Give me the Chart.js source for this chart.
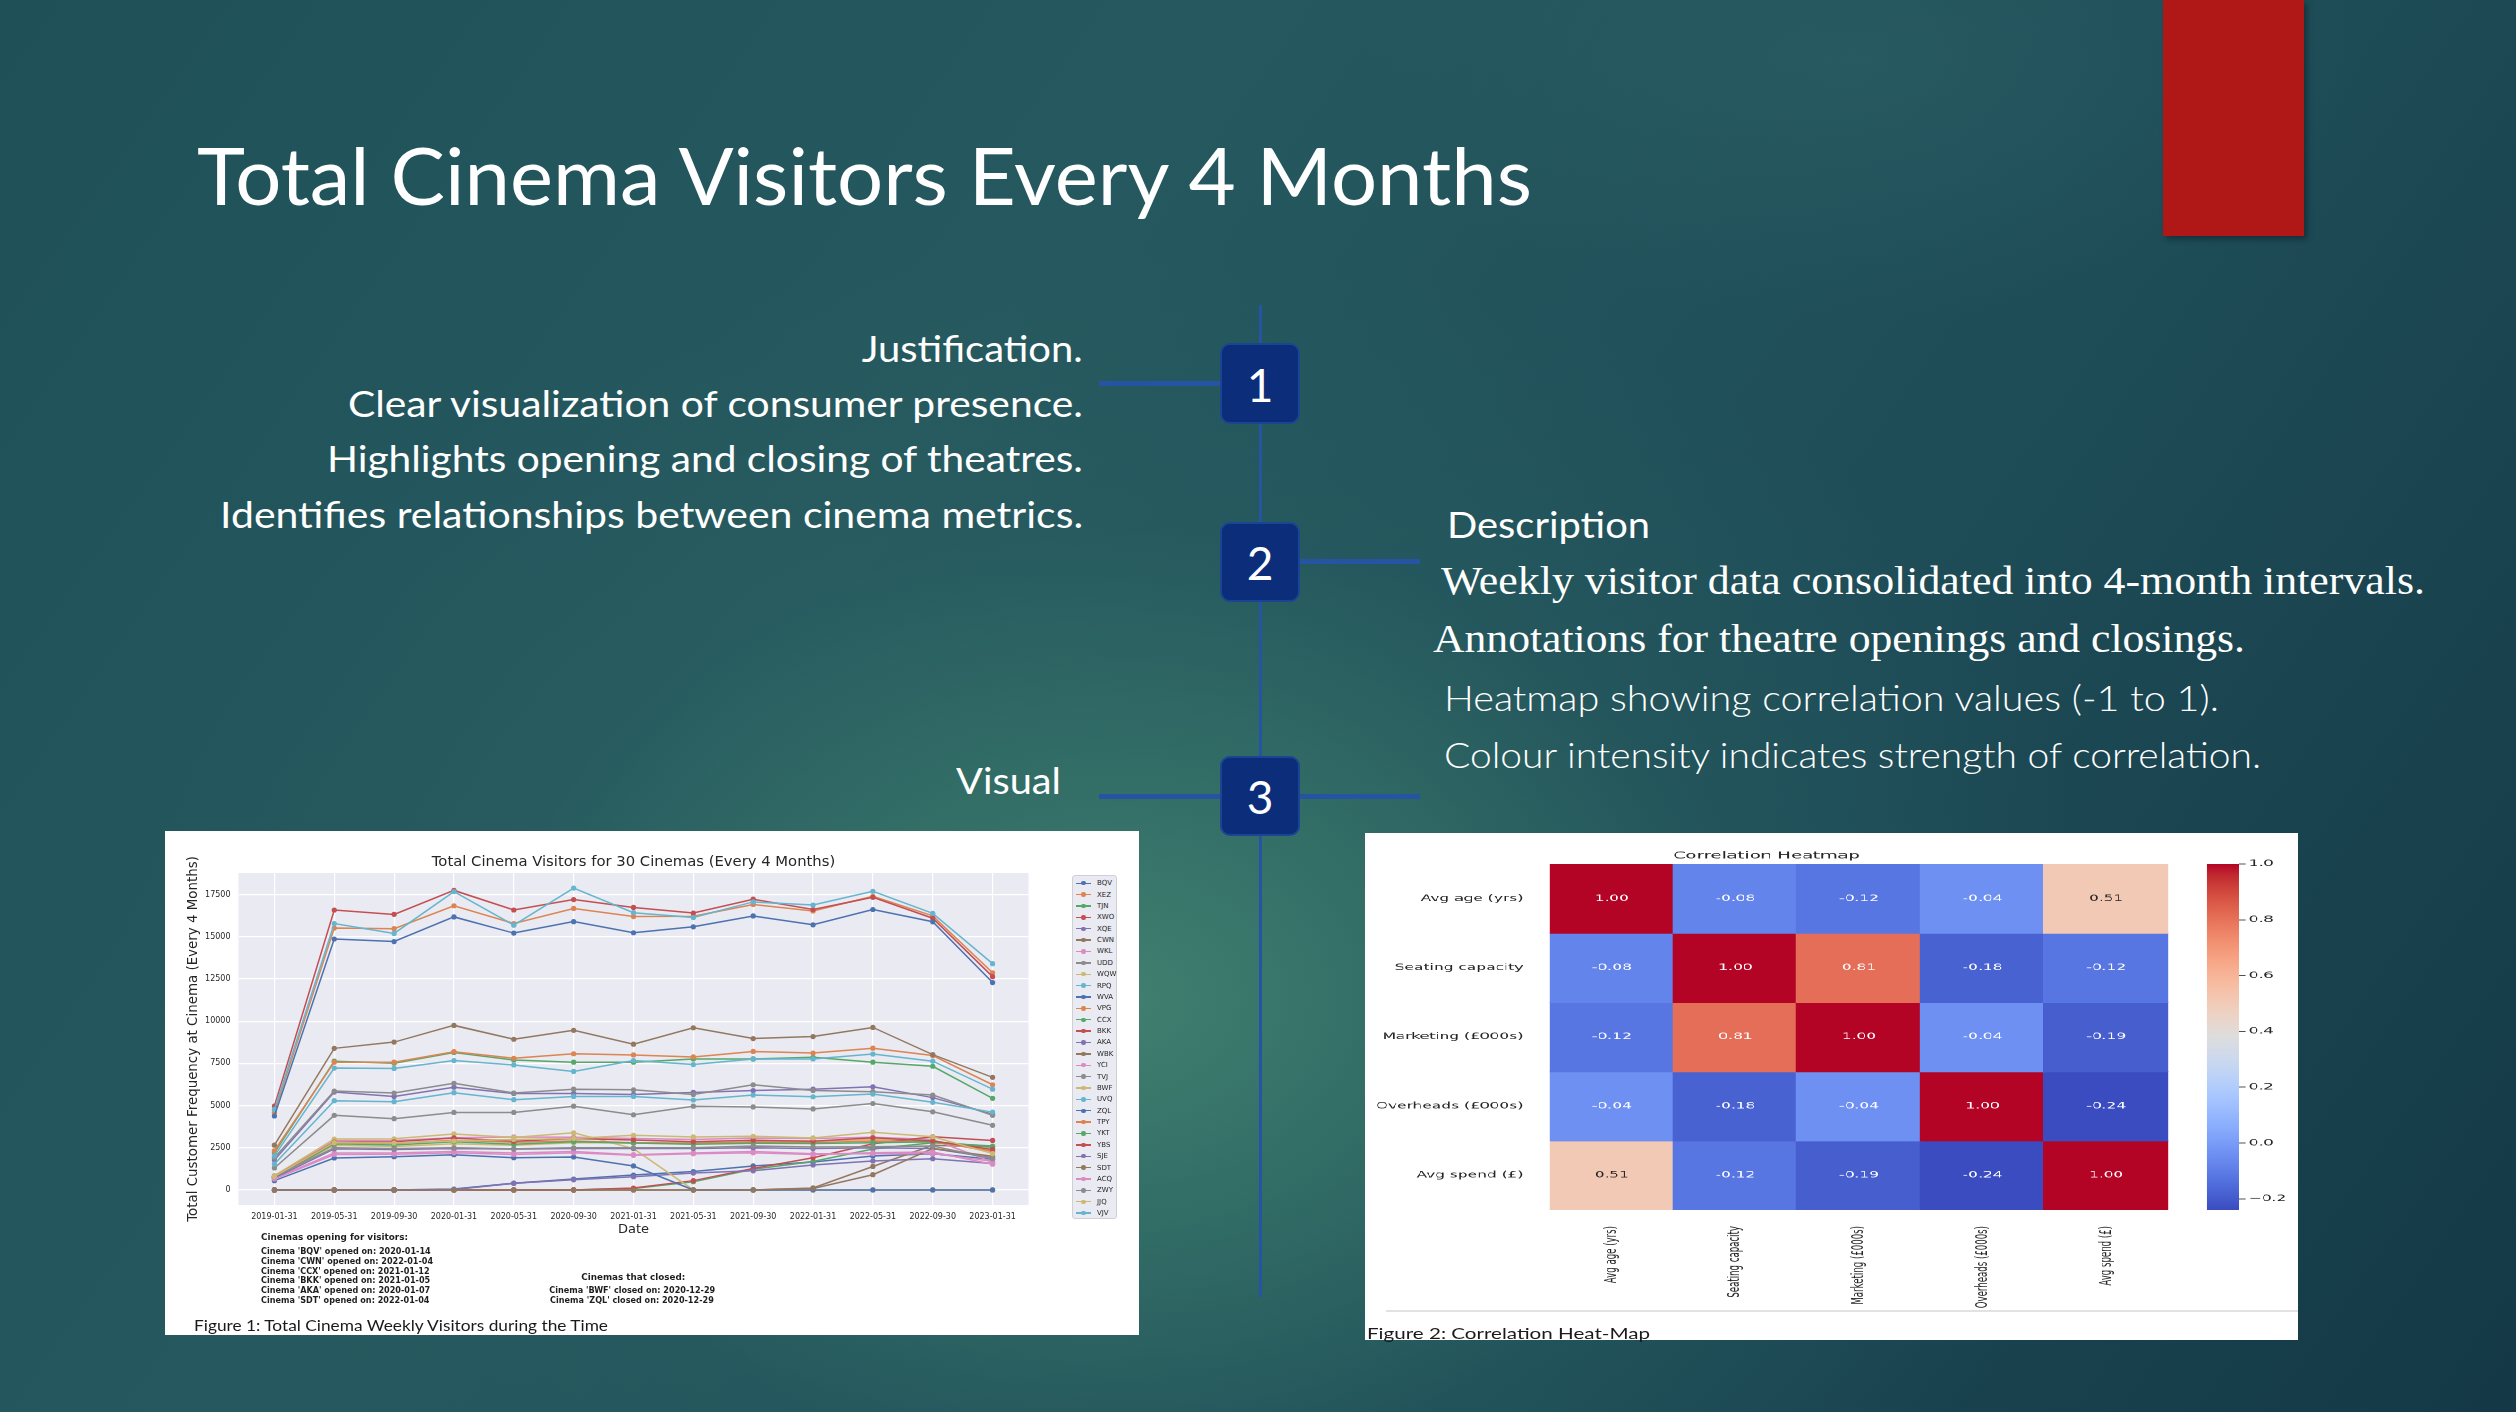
<!DOCTYPE html>
<html>
<head>
<meta charset="utf-8">
<script src="https://cdn.jsdelivr.net/npm/chart.js@4.4.1/dist/chart.umd.min.js"></script>
<style>
html,body{margin:0;padding:0;width:2516px;height:1412px;overflow:hidden;}
#slide{position:relative;width:2516px;height:1412px;overflow:hidden;
  background:
    radial-gradient(ellipse 1000px 760px at 1120px 1000px, rgba(66,130,113,0.95) 0%, rgba(56,118,106,0.75) 30%, rgba(42,96,98,0.4) 62%, rgba(30,76,86,0) 100%),
    radial-gradient(ellipse 500px 260px at 1860px 60px, rgba(48,100,105,0.45) 0%, rgba(40,90,98,0) 100%),
    linear-gradient(125deg, #1f5058 0%, #26595f 35%, #1d4b56 68%, #143846 100%);}
.t{position:absolute;white-space:nowrap;line-height:1;color:#fff;left:0;top:0;}
.blk{position:absolute;}
#lc{position:absolute;left:165px;top:831px;width:974px;height:504px;background:#fff;}
#lc canvas{position:absolute;left:0;top:0;}
#legend{position:absolute;left:907px;top:44px;width:45px;height:344px;box-sizing:border-box;border:1px solid #cfcfd6;border-radius:3px;background:#eaeaf2;padding-top:1.6px;}
.lgrow{position:relative;height:11.38px;}
.lgline{position:absolute;left:3px;top:5px;width:15px;height:1.4px;}
.lgdot{position:absolute;left:8.3px;top:3.5px;width:4.4px;height:4.4px;border-radius:50%;}
.lgtxt{position:absolute;left:24px;top:1.6px;font:7px 'DejaVu Sans';color:#262626;line-height:8px;}
#hm{position:absolute;left:1365px;top:833px;width:933px;height:507px;background:#fff;}
#hmInner{position:absolute;left:0;top:0;height:507px;transform-origin:0 0;}
#hmInner canvas{position:absolute;top:0;}
</style>
</head>
<body>
<div id="slide">
  <div class="blk" style="left:2163px;top:0;width:141px;height:236px;background:#b01717;box-shadow:3px 3px 6px rgba(0,0,0,0.35);"></div>

  <!-- timeline -->
  <div class="blk" style="left:1258.5px;top:305px;width:3px;height:992px;background:#2454a2;"></div>
  <div class="blk" style="left:1099px;top:381px;width:121px;height:5px;background:#2454a2;"></div>
  <div class="blk" style="left:1300px;top:559px;width:120px;height:5px;background:#2454a2;"></div>
  <div class="blk" style="left:1099px;top:793.5px;width:321px;height:5px;background:#2454a2;"></div>
  <div class="blk" style="left:1220px;top:343px;width:80px;height:81px;box-sizing:border-box;border-radius:10px;background:#0b2d7a;border:2px solid #1a4592;"></div>
  <div class="blk" style="left:1220px;top:522px;width:80px;height:80px;box-sizing:border-box;border-radius:10px;background:#0b2d7a;border:2px solid #1a4592;"></div>
  <div class="blk" style="left:1220px;top:756px;width:80px;height:80px;box-sizing:border-box;border-radius:10px;background:#0b2d7a;border:2px solid #1a4592;"></div>

  <!-- line chart -->
  <div id="lc"><canvas id="lineChart" width="974" height="504"></canvas><div id="legend"></div></div>

  <!-- heatmap -->
  <div id="hm">
    <div id="hmInner"><canvas id="heatChart" width="552" height="507" style="left:0"></canvas><canvas id="cbarChart" width="81" height="507" style="left:440px"></canvas></div>
    <div class="blk" style="left:21px;top:477px;width:912px;height:1.5px;background:#e2e2e2;"></div>
  </div>

  <!-- slide texts -->
  <div class="t" data-x="197" data-y="174" data-w="1335" data-a="l" style="font:400 80px Lato;">Total Cinema Visitors Every 4 Months</div>

  <div class="t" data-x="1083" data-y="347" data-w="221" data-a="r" style="font:400 37px Lato;">Justification.</div>
  <div class="t" data-x="1083" data-y="402" data-w="735" data-a="r" style="font:400 37px Lato;">Clear visualization of consumer presence.</div>
  <div class="t" data-x="1083" data-y="457" data-w="756" data-a="r" style="font:400 37px Lato;">Highlights opening and closing of theatres.</div>
  <div class="t" data-x="1083" data-y="513" data-w="863" data-a="r" style="font:400 37px Lato;">Identifies relationships between cinema metrics.</div>

  <div class="t" data-x="1447" data-y="523" data-w="203" data-a="l" style="font:400 37px Lato;">Description</div>
  <div class="t" data-x="1441" data-y="580" data-w="984" data-a="l" style="font:400 40px 'Liberation Serif';">Weekly visitor data consolidated into 4-month intervals.</div>
  <div class="t" data-x="1433" data-y="638" data-w="812" data-a="l" style="font:400 40px 'Liberation Serif';">Annotations for theatre openings and closings.</div>
  <div class="t" data-x="1444" data-y="697" data-w="775" data-a="l" style="font:300 35px Lato;">Heatmap showing correlation values (-1 to 1).</div>
  <div class="t" data-x="1444" data-y="754" data-w="817" data-a="l" style="font:300 35px Lato;">Colour intensity indicates strength of correlation.</div>
  <div class="t" data-x="956" data-y="779" data-w="105" data-a="l" style="font:400 37px Lato;">Visual</div>

  <div class="t" data-x="1260" data-y="384" data-a="c" style="font:400 46px Lato;">1</div>
  <div class="t" data-x="1260" data-y="562" data-a="c" style="font:400 46px Lato;">2</div>
  <div class="t" data-x="1260" data-y="796" data-a="c" style="font:400 46px Lato;">3</div>

  <!-- line chart annotations -->
  <div class="t" data-x="261" data-y="1237" data-w="147" data-a="l" style="font:700 9px 'DejaVu Sans';color:#1e1e1e;">Cinemas opening for visitors:</div>
  <div class="t" data-x="261" data-y="1251" data-sx="0.9" data-a="l" style="font:700 9px 'DejaVu Sans';color:#1e1e1e;">Cinema 'BQV' opened on: 2020-01-14</div>
  <div class="t" data-x="261" data-y="1261" data-sx="0.9" data-a="l" style="font:700 9px 'DejaVu Sans';color:#1e1e1e;">Cinema 'CWN' opened on: 2022-01-04</div>
  <div class="t" data-x="261" data-y="1271" data-sx="0.9" data-a="l" style="font:700 9px 'DejaVu Sans';color:#1e1e1e;">Cinema 'CCX' opened on: 2021-01-12</div>
  <div class="t" data-x="261" data-y="1280" data-sx="0.9" data-a="l" style="font:700 9px 'DejaVu Sans';color:#1e1e1e;">Cinema 'BKK' opened on: 2021-01-05</div>
  <div class="t" data-x="261" data-y="1290" data-sx="0.9" data-a="l" style="font:700 9px 'DejaVu Sans';color:#1e1e1e;">Cinema 'AKA' opened on: 2020-01-07</div>
  <div class="t" data-x="261" data-y="1300" data-sx="0.9" data-a="l" style="font:700 9px 'DejaVu Sans';color:#1e1e1e;">Cinema 'SDT' opened on: 2022-01-04</div>
  <div class="t" data-x="633" data-y="1277" data-w="104" data-a="c" style="font:700 9px 'DejaVu Sans';color:#1e1e1e;">Cinemas that closed:</div>
  <div class="t" data-x="632" data-y="1290" data-sx="0.9" data-a="c" style="font:700 9px 'DejaVu Sans';color:#1e1e1e;">Cinema 'BWF' closed on: 2020-12-29</div>
  <div class="t" data-x="632" data-y="1300" data-sx="0.9" data-a="c" style="font:700 9px 'DejaVu Sans';color:#1e1e1e;">Cinema 'ZQL' closed on: 2020-12-29</div>
  <div class="t" data-x="194" data-y="1325" data-w="414" data-a="l" style="font:400 15px Lato;color:#1a1a1a;">Figure 1: Total Cinema Weekly Visitors during the Time</div>
  <div class="t" data-x="1367" data-y="1332" data-w="283" data-a="l" style="font:400 16px Lato;color:#1a1a1a;">Figure 2: Correlation Heat-Map</div>
</div>

<script>
// ---------------- DATA ----------------
const dates = ['2019-01-31','2019-05-31','2019-09-30','2020-01-31','2020-05-31','2020-09-30','2021-01-31','2021-05-31','2021-09-30','2022-01-31','2022-05-31','2022-09-30','2023-01-31'];
const yTicks = [0, 2500, 5000, 7500, 10000, 12500, 15000, 17500];
const cinemaNames = ['BQV','XEZ','TJN','XWO','XQE','CWN','WKL','UDD','WQW','RPQ','WVA','VPG','CCX','BKK','AKA','WBK','YCI','TVJ','BWF','UVQ','ZQL','TPY','YKT','YBS','SJE','SDT','ACQ','ZWY','JJQ','VJV'];

const BQV = [0, 0, 0, 50, 400, 640, 880, 1090, 1420, 1650, 2010, 2150, 1820];
const XEZ = [4580, 15520, 15480, 16840, 15790, 16680, 16200, 16220, 16920, 16530, 17400, 16240, 12870];
const TJN = [2200, 7630, 7510, 8150, 7700, 7570, 7570, 7760, 7760, 7860, 7570, 7330, 5430];
const XWO = [4970, 16590, 16330, 17750, 16590, 17210, 16740, 16410, 17230, 16620, 17340, 16100, 12640];
const XQE = [1770, 5800, 5540, 6090, 5720, 5720, 5660, 5780, 5890, 5970, 6110, 5470, 4490];
const CWN = [0, 0, 0, 0, 0, 0, 0, 0, 0, 120, 1390, 2650, 2540];
const WKL = [820, 2930, 2930, 3090, 3140, 3120, 3050, 2990, 3080, 3050, 3120, 2990, 1650];
const UDD = [1900, 5860, 5740, 6320, 5740, 5970, 5930, 5660, 6230, 5890, 5820, 5620, 4420];
const WQW = [760, 2640, 2580, 2730, 2640, 2800, 2800, 2750, 2850, 2890, 2990, 2920, 2250];
const RPQ = [4770, 15790, 15200, 17680, 15690, 17890, 16430, 16140, 17070, 16880, 17700, 16390, 13410];
const WVA = [4380, 14870, 14720, 16180, 15220, 15900, 15240, 15590, 16240, 15710, 16620, 15890, 12290];
const VPG = [2320, 7570, 7570, 8190, 7800, 8070, 8000, 7880, 8210, 8110, 8400, 7960, 6230];
const CCX = [0, 0, 0, 0, 0, 0, 80, 490, 1230, 1680, 2420, 2800, 2600];
const BKK = [0, 0, 0, 0, 0, 0, 110, 550, 1270, 1910, 2730, 3150, 2930];
const AKA = [0, 0, 0, 30, 390, 600, 780, 1000, 1130, 1480, 1720, 1850, 1560];
const WBK = [2650, 8390, 8760, 9750, 8930, 9460, 8640, 9610, 8970, 9090, 9630, 8020, 6670];
const YCI = [680, 2190, 2190, 2270, 2190, 2270, 2090, 2190, 2270, 2150, 2150, 2150, 1700];
const TVJ = [1300, 4420, 4220, 4590, 4590, 4960, 4450, 4960, 4920, 4800, 5120, 4630, 3830];
const BWF = [850, 3010, 3030, 3320, 3100, 3380, 2450, 0, 0, 0, 0, 0, 0];
const UVQ = [2020, 7220, 7200, 7670, 7410, 7020, 7670, 7430, 7760, 7760, 8050, 7630, 5970];
const ZQL = [550, 1890, 1970, 2090, 1910, 1950, 1420, 0, 0, 0, 0, 0, 0];
const TPY = [760, 2760, 2750, 2950, 2820, 2900, 2800, 2780, 2830, 2800, 2900, 2850, 2300];
const YKT = [720, 2730, 2660, 2850, 2700, 2850, 2780, 2700, 2760, 2750, 2800, 2850, 2550];
const YBS = [780, 2830, 2850, 3080, 2880, 3050, 2960, 2850, 2950, 2880, 3090, 2900, 2400];
const SJE = [700, 2440, 2400, 2450, 2420, 2450, 2450, 2450, 2500, 2450, 2500, 2450, 1900];
const SDT = [0, 0, 0, 0, 0, 0, 0, 0, 0, 80, 900, 2450, 2000];
const ACQ = [650, 2100, 2120, 2200, 2100, 2200, 2050, 2150, 2200, 2100, 2200, 2250, 1520];
const ZWY = [800, 2500, 2460, 2500, 2440, 2500, 2500, 2500, 2600, 2540, 2560, 2600, 1850];
const JJQ = [800, 2800, 2780, 2900, 2990, 3050, 3240, 3140, 3180, 3080, 3420, 3150, 2150];
const VJV = [1530, 5290, 5230, 5760, 5350, 5540, 5540, 5330, 5620, 5520, 5680, 5190, 4610];

const heatLabels = ['Avg age (yrs)', 'Seating capacity', 'Marketing (£000s)', 'Overheads (£000s)', 'Avg spend (£)'];
const corrAvgAge    = [1.00, -0.08, -0.12, -0.04, 0.51];
const corrSeating   = [-0.08, 1.00, 0.81, -0.18, -0.12];
const corrMarketing = [-0.12, 0.81, 1.00, -0.04, -0.19];
const corrOverheads = [-0.04, -0.18, -0.04, 1.00, -0.24];
const corrAvgSpend  = [0.51, -0.12, -0.19, -0.24, 1.00];
const colorbarTicks = [-0.2, 0.0, 0.2, 0.4, 0.6, 0.8, 1.0];

// ---------------- TEXT PLACEMENT ----------------
document.querySelectorAll('.t').forEach(el => {
  const x = +el.dataset.x, y = +el.dataset.y, a = el.dataset.a;
  const r = el.getBoundingClientRect();
  const nw = r.width, nh = r.height;
  let s = 1;
  if (el.dataset.w) s = (+el.dataset.w) / nw;
  else if (el.dataset.sx) s = +el.dataset.sx;
  el.style.top = (y - nh / 2) + 'px';
  if (a === 'l') { el.style.left = x + 'px'; el.style.transformOrigin = '0 50%'; }
  else if (a === 'r') { el.style.left = (x - nw) + 'px'; el.style.transformOrigin = '100% 50%'; }
  else { el.style.left = (x - nw / 2) + 'px'; el.style.transformOrigin = '50% 50%'; }
  el.style.transform = 'scaleX(' + s + ')';
});

// ---------------- LINE CHART ----------------
const deep = ['#4c72b0','#dd8452','#55a868','#c44e52','#8172b3','#937860','#da8bc3','#8c8c8c','#ccb974','#64b5cd'];
const seriesList = [BQV, XEZ, TJN, XWO, XQE, CWN, WKL, UDD, WQW, RPQ, WVA, VPG, CCX, BKK, AKA, WBK, YCI, TVJ, BWF, UVQ, ZQL, TPY, YKT, YBS, SJE, SDT, ACQ, ZWY, JJQ, VJV];
const allVals = seriesList.flat();
const dMin = Math.min(...allVals), dMax = Math.max(...allVals);
const yPad = (dMax - dMin) * 0.05;
const xPad = (dates.length - 1) * 0.05;

const plotBg = {
  id: 'plotBg',
  beforeDraw(chart, args, opts) {
    const {ctx, chartArea: a} = chart;
    ctx.save(); ctx.fillStyle = opts.color || '#eaeaf2';
    ctx.fillRect(a.left, a.top, a.right - a.left, a.bottom - a.top);
    ctx.restore();
  }
};

const lineChart = new Chart(document.getElementById('lineChart'), {
  type: 'line',
  data: {
    datasets: cinemaNames.map((n, i) => ({
      label: n,
      data: seriesList[i].map((v, j) => ({x: j, y: v})),
      borderColor: deep[i % 10],
      backgroundColor: deep[i % 10],
      pointBackgroundColor: deep[i % 10],
      borderWidth: 1.5,
      pointRadius: 2.6,
      pointHoverRadius: 2.6,
      pointBorderWidth: 0,
      tension: 0,
      order: cinemaNames.length - i
    }))
  },
  options: {
    responsive: false, animation: false, devicePixelRatio: 1,
    layout: {padding: {left: 0, right: 110.5, top: 0, bottom: 90}},
    plugins: {
      legend: {display: false}, tooltip: {enabled: false},
      title: {display: true, fullSize: false, text: 'Total Cinema Visitors for 30 Cinemas (Every 4 Months)', color: '#262626',
        font: {family: 'DejaVu Sans', size: 14.8, weight: 'normal'}, padding: {top: 22.1, bottom: 2.1}},
      plotBg: {color: '#eaeaf2'}
    },
    scales: {
      x: {
        type: 'linear', min: -xPad, max: dates.length - 1 + xPad,
        afterBuildTicks: ax => { ax.ticks = dates.map((d, i) => ({value: i})); },
        afterFit: s => { s.height = 40; },
        ticks: {callback: v => dates[Math.round(v)], color: '#262626', font: {family: 'DejaVu Sans', size: 8}, padding: 7, maxRotation: 0, minRotation: 0, autoSkip: false},
        grid: {color: '#ffffff', lineWidth: 1.2, drawTicks: false},
        border: {display: false},
        title: {display: true, text: 'Date', color: '#262626', font: {family: 'DejaVu Sans', size: 13}, padding: {top: 0, bottom: 7.2}}
      },
      y: {
        type: 'linear', min: dMin - yPad, max: dMax + yPad,
        afterBuildTicks: ax => { ax.ticks = yTicks.map(v => ({value: v})); },
        afterFit: s => { s.width = 73.5; },
        ticks: {callback: v => String(v), color: '#262626', font: {family: 'DejaVu Sans', size: 8}, padding: 8},
        grid: {color: '#ffffff', lineWidth: 1.2, drawTicks: false},
        border: {display: false},
        title: {display: true, text: 'Total Customer Frequency at Cinema (Every 4 Months)', color: '#262626', font: {family: 'DejaVu Sans', size: 13.4}, padding: {top: 20, bottom: 0}}
      }
    }
  },
  plugins: [plotBg]
});

// HTML legend built from the chart's datasets
const lg = document.getElementById('legend');
lineChart.data.datasets.forEach(ds => {
  const row = document.createElement('div');
  row.className = 'lgrow';
  row.innerHTML = '<span class="lgline" style="background:' + ds.borderColor + '"></span>' +
                  '<span class="lgdot" style="background:' + ds.borderColor + '"></span>' +
                  '<span class="lgtxt">' + ds.label + '</span>';
  lg.appendChild(row);
});

// ---------------- HEATMAP ----------------
const cwStops = [[59,76,192],[68,90,204],[77,104,215],[87,117,225],[98,130,234],[108,142,241],[119,154,247],[130,165,251],[141,176,254],[152,185,255],[163,194,255],[174,201,253],[184,208,249],[194,213,244],[204,217,238],[213,219,230],[221,221,221],[229,216,209],[236,211,197],[241,204,185],[245,196,173],[247,187,160],[247,177,148],[247,166,135],[244,154,123],[241,141,111],[236,127,99],[229,112,88],[222,96,77],[213,80,66],[203,62,56],[192,40,47],[180,4,38]];
function coolwarm(t) {
  t = Math.max(0, Math.min(1, t));
  const p = t * (cwStops.length - 1);
  const i = Math.min(cwStops.length - 2, Math.floor(p));
  const f = p - i;
  const a = cwStops[i], b = cwStops[i + 1];
  return [0, 1, 2].map(k => Math.round(a[k] + (b[k] - a[k]) * f));
}
const corrRows = [corrAvgAge, corrSeating, corrMarketing, corrOverheads, corrAvgSpend];
const flatCorr = corrRows.flat();
const vMin = Math.min(...flatCorr), vMax = Math.max(...flatCorr);
const norm = v => (v - vMin) / (vMax - vMin);
const rgbStr = c => 'rgb(' + c[0] + ',' + c[1] + ',' + c[2] + ')';
const lum = c => {
  const l = c.map(x => { x /= 255; return x <= 0.03928 ? x / 12.92 : Math.pow((x + 0.055) / 1.055, 2.4); });
  return 0.2126 * l[0] + 0.7152 * l[1] + 0.0722 * l[2];
};

const STRETCH = 1.79;
const inner = document.getElementById('hmInner');
inner.style.width = (933 / STRETCH) + 'px';
inner.style.transform = 'scaleX(' + STRETCH + ')';

const cellText = {
  id: 'cellText',
  afterDatasetsDraw(chart) {
    const ctx = chart.ctx;
    ctx.save();
    ctx.font = '8.6px "DejaVu Sans"';
    ctx.textAlign = 'center'; ctx.textBaseline = 'middle';
    chart.data.datasets.forEach((ds, di) => {
      const meta = chart.getDatasetMeta(di);
      meta.data.forEach((bar, j) => {
        const v = ds.corr[j];
        const c = coolwarm(norm(v));
        ctx.fillStyle = lum(c) > 0.408 ? '#262626' : '#ffffff';
        ctx.fillText(v.toFixed(2), bar.x, (bar.y + bar.base) / 2);
      });
    });
    ctx.restore();
  }
};

new Chart(document.getElementById('heatChart'), {
  type: 'bar',
  data: {
    labels: heatLabels,
    datasets: corrRows.map((row, r) => ({
      label: heatLabels[r],
      data: row.map(() => 1),
      corr: row,
      backgroundColor: row.map(v => rgbStr(coolwarm(norm(v)))),
      borderWidth: 0,
      barPercentage: 1,
      categoryPercentage: 1,
      inflateAmount: 0.6
    }))
  },
  options: {
    responsive: false, animation: false, devicePixelRatio: 2,
    layout: {padding: {left: 0, right: 103.4, top: 0, bottom: 30}},
    plugins: {
      legend: {display: false}, tooltip: {enabled: false},
      title: {display: true, text: 'Correlation Heatmap', color: '#262626', font: {family: 'DejaVu Sans', size: 10, weight: 'normal'}, padding: {top: 17, bottom: 2}}
    },
    scales: {
      x: {
        stacked: true, grid: {display: false}, border: {display: false},
        afterFit: s => { s.height = 100; },
        ticks: {autoSkip: false, minRotation: 90, maxRotation: 90, padding: 8, color: '#262626', font: {family: 'DejaVu Sans', size: 8.6}}
      },
      y: {
        type: 'linear', stacked: true, min: 0, max: heatLabels.length, reverse: true,
        grid: {display: false}, border: {display: false},
        afterBuildTicks: ax => { ax.ticks = heatLabels.map((l, i) => ({value: i + 0.5})); },
        afterFit: s => { s.width = 103.4; },
        ticks: {callback: (v, i) => heatLabels[i], padding: 7, color: '#262626', font: {family: 'DejaVu Sans', size: 8.6}}
      }
    }
  },
  plugins: [cellText]
});

// colour bar
new Chart(document.getElementById('cbarChart'), {
  type: 'bar',
  data: {
    labels: [''],
    datasets: [{
      data: [[vMin, vMax]],
      backgroundColor: ctx => {
        const ch = ctx.chart, a = ch.chartArea;
        if (!a) return '#888';
        const g = ch.ctx.createLinearGradient(0, a.bottom, 0, a.top);
        cwStops.forEach((c, i) => g.addColorStop(i / (cwStops.length - 1), rgbStr(c)));
        return g;
      },
      borderWidth: 0, barPercentage: 1, categoryPercentage: 1, inflateAmount: 0
    }]
  },
  options: {
    responsive: false, animation: false, devicePixelRatio: 2,
    layout: {padding: {left: 30.4, right: 0, top: 31, bottom: 130}},
    plugins: {legend: {display: false}, tooltip: {enabled: false}},
    scales: {
      x: {display: false},
      y: {
        position: 'right', min: vMin, max: vMax,
        afterBuildTicks: ax => { ax.ticks = colorbarTicks.map(v => ({value: v})); },
        afterFit: s => { s.width = 32.7; },
        grid: {drawOnChartArea: false, drawTicks: true, tickLength: 3.5, color: '#262626', lineWidth: 0.8},
        border: {display: false},
        ticks: {callback: v => (v < 0 ? '\u2212' : '') + Math.abs(v).toFixed(1), padding: 2, color: '#262626', font: {family: 'DejaVu Sans', size: 8.6}}
      }
    }
  }
});
</script>
</body>
</html>
